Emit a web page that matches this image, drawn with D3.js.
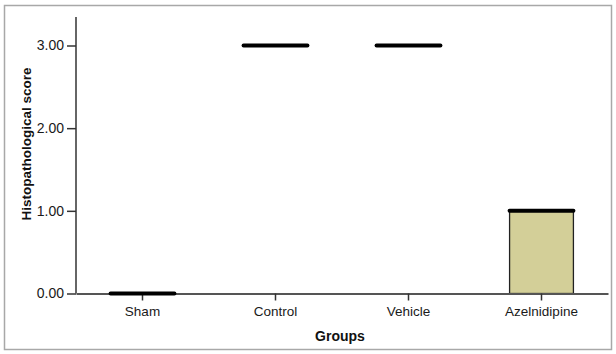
<!DOCTYPE html>
<html>
<head>
<meta charset="utf-8">
<script src="https://cdn.jsdelivr.net/npm/d3@7"></script>
<style>
  html, body { margin: 0; padding: 0; background: #fff; }
  svg { display: block; font-family: "Liberation Sans", Arial, sans-serif; }
</style>
</head>
<body>
<svg id="chart" width="616" height="354"></svg>
<script>
// Groups and their score summaries (box from q1 to q3, thick line at the median)
const groups = ["Sham", "Control", "Vehicle", "Azelnidipine"];
const q1 = [0, 3, 3, 0];
const median = [0, 3, 3, 1];
const q3 = [0, 3, 3, 1];
const yTicks = [0, 1, 2, 3];

const svg = d3.select("#chart");
const W = 616, H = 354;

// outer frame
svg.append("rect")
  .attr("x", 4.5).attr("y", 5.5)
  .attr("width", W - 9).attr("height", H - 10)
  .attr("fill", "none").attr("stroke", "#a8a8a8").attr("stroke-width", 1.5);

const x0 = 76, x1 = 608, yTop = 17, yBase = 293.5;

const x = d3.scaleBand().domain(groups).range([x0, x1]);
const y = d3.scaleLinear().domain([0, 3]).range([yBase, 45.5]);

const boxW = x.step() * 0.48;
const data = groups.map((g, i) => ({ g, q1: q1[i], med: median[i], q3: q3[i] }));

// boxes
svg.append("g").selectAll("rect").data(data.filter(d => d.q3 > d.q1)).join("rect")
  .attr("x", d => x(d.g) + x.bandwidth() / 2 - boxW / 2)
  .attr("y", d => y(d.q3))
  .attr("width", boxW)
  .attr("height", d => y(d.q1) - y(d.q3))
  .attr("fill", "#d3cf98")
  .attr("stroke", "#222")
  .attr("stroke-width", 1.3);

// y axis
const yAxis = svg.append("g")
  .attr("transform", `translate(${x0},0)`)
  .call(d3.axisLeft(y).tickValues(yTicks).tickFormat(d3.format(".2f")).tickSize(9).tickSizeOuter(0));
yAxis.select(".domain").remove();
yAxis.append("line")
  .attr("x1", 0).attr("x2", 0).attr("y1", yTop).attr("y2", yBase)
  .attr("stroke", "#333").attr("stroke-width", 1.5);
yAxis.selectAll(".tick line").attr("stroke", "#333").attr("stroke-width", 1.5);
yAxis.selectAll(".tick text")
  .attr("x", -12)
  .attr("fill", "#1a1a1a")
  .style("font-size", "14px")
  .style("font-family", "'Liberation Sans', Arial, sans-serif");

// x axis
const xAxis = svg.append("g")
  .attr("transform", `translate(0,${yBase})`)
  .call(d3.axisBottom(x).tickSize(7).tickSizeOuter(0));
xAxis.select(".domain").attr("stroke", "#555").attr("stroke-width", 2);
xAxis.selectAll(".tick line").attr("stroke", "#333").attr("stroke-width", 1.5);
xAxis.selectAll(".tick text")
  .attr("y", 13)
  .attr("fill", "#1a1a1a")
  .style("font-size", "13.5px")
  .style("font-family", "'Liberation Sans', Arial, sans-serif");

// median lines
svg.append("g").selectAll("line").data(data).join("line")
  .attr("x1", d => x(d.g) + x.bandwidth() / 2 - boxW / 2)
  .attr("x2", d => x(d.g) + x.bandwidth() / 2 + boxW / 2)
  .attr("y1", d => y(d.med))
  .attr("y2", d => y(d.med))
  .attr("stroke", "#000")
  .attr("stroke-width", 4)
  .attr("stroke-linecap", "round");

// axis titles
svg.append("text")
  .attr("x", 340).attr("y", 341)
  .attr("text-anchor", "middle")
  .attr("font-weight", "bold")
  .attr("font-size", 14)
  .attr("fill", "#111")
  .text("Groups");

svg.append("text")
  .attr("transform", "translate(31,144) rotate(-90)")
  .attr("text-anchor", "middle")
  .attr("font-weight", "bold")
  .attr("font-size", 13.5)
  .attr("fill", "#111")
  .text("Histopathological score");
</script>
</body>
</html>
